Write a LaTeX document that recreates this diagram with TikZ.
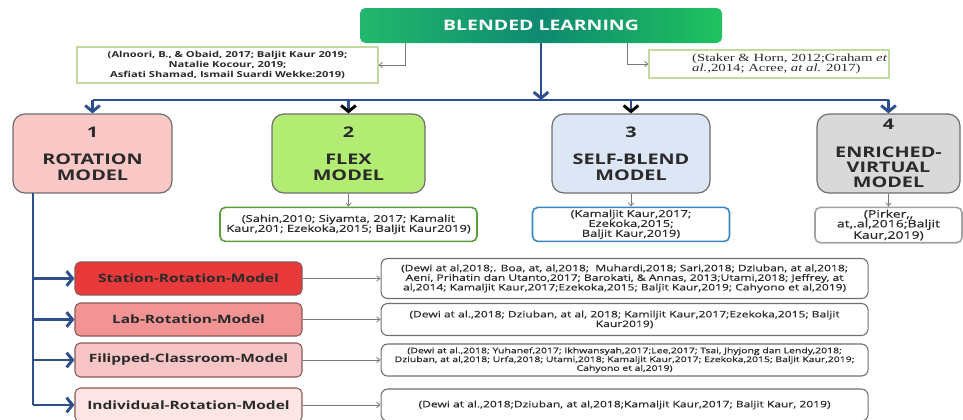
\documentclass[tikz,border=0pt]{standalone}
\usepackage{fontspec}
\setmainfont{Open Sans}[FakeStretch=1.35]
\newfontfamily\citefont{Open Sans}[FakeStretch=1.35, FakeBold=0.6]
\newfontfamily\refserif{Liberation Serif}[FakeStretch=1.35]
\usetikzlibrary{positioning,arrows.meta}

\definecolor{trunkblue}{HTML}{2E4F8E}
\definecolor{greenL}{HTML}{22B86C}
\definecolor{greenM}{HTML}{0E8A70}
\definecolor{greenR}{HTML}{1FC25E}
\definecolor{ink}{HTML}{2A2A2A}
\definecolor{edgegray}{HTML}{6E6E6E}
\definecolor{thingray}{HTML}{7A7A7A}
\definecolor{rotfill}{HTML}{F9C8C7}
\definecolor{flexfill}{HTML}{B2EC73}
\definecolor{selffill}{HTML}{DCE6F4}
\definecolor{virtfill}{HTML}{D9D9D9}
\definecolor{statfill}{HTML}{E8393B}
\definecolor{labfill}{HTML}{F29494}
\definecolor{flipfill}{HTML}{F7C5C5}
\definecolor{indfill}{HTML}{FDE5E5}
\definecolor{refgreen}{HTML}{C4D9A2}
\definecolor{flexedge}{HTML}{5C9E3E}
\definecolor{selfedge}{HTML}{3A86C4}
\definecolor{virtedge}{HTML}{A3A3A3}

\tikzset{
  headbox/.style={rounded corners=4pt, left color=greenL, right color=greenR, middle color=greenM,
    minimum width=271.5pt, minimum height=26.25pt, text=white, font=\bfseries\fontsize{10.8}{12}\selectfont},
  topref/.style={draw=refgreen, line width=0.8pt, align=center, text=ink, inner sep=0pt},
  model/.style={draw=edgegray, line width=0.9pt, rounded corners=9pt, minimum height=59.25pt,
    align=center, text=ink, font=\bfseries\fontsize{11}{11.5}\selectfont},
  modelref/.style={draw, line width=1.2pt, rounded corners=4pt, align=center, text=ink,
    minimum height=25.5pt, inner sep=0pt, font=\citefont\fontsize{7.2}{7.4}\selectfont},
  sub/.style={draw=edgegray!80!red, line width=0.8pt, rounded corners=4pt, minimum width=170.25pt,
    text=ink, font=\bfseries\fontsize{8.6}{10}\selectfont},
  subref/.style={draw=edgegray, line width=0.8pt, rounded corners=5pt, minimum width=365.25pt,
    minimum height=24pt, align=center, text=ink, inner sep=0pt, font=\citefont\fontsize{6.7}{7.2}\selectfont},
  trunk/.style={draw=trunkblue, line width=2.2pt},
  chevron/.style={-{Straight Barb[length=4.5pt, width=11pt, line width=2.2pt, color=#1]}},
  thin arrow/.style={draw=thingray, line width=0.6pt, -{Straight Barb[length=2.5pt, width=4pt, line width=0.6pt]}}
}

\begin{document}
\begin{tikzpicture}[x=0.75pt, y=-0.75pt]
  \useasboundingbox (0,0) rectangle (963,419);

  % head and its references
  \node[headbox] (bl) at (541,25.5) {BLENDED LEARNING};
  \node[topref, minimum width=225.75pt, minimum height=27pt, font=\bfseries\fontsize{6.2}{7.2}\selectfont] (refL) at (227.5,65)
    {(Alnoori, B., \& Obaid, 2017; Baljit Kaur 2019;\\Natalie Kocour, 2019;\\Asfiati Shamad, Ismail Suardi Wekke:2019)};
  \node[topref, minimum width=180pt, minimum height=21pt, align=left, font=\refserif\fontsize{8.2}{8}\selectfont] (refR) at (769,64)
    {\hspace*{31pt}(Staker \& Horn, 2012;Graham \textit{et}\\\hspace*{31pt}\textit{al.},2014; Acree, \textit{at al.} 2017)};
  \draw[thin arrow] ([xshift=-102pt]bl.south) |- (refL.east);
  \draw[thin arrow] ([xshift=64.5pt]bl.south) |- (refR.west);

  % four models
  \node[model, fill=rotfill, minimum width=119.25pt] (rot) at (92.5,153.5) {1\\[9pt]ROTATION\\MODEL};
  \node[model, fill=flexfill, minimum width=114.75pt] (flex) at (348.5,153.5) {2\\[9pt]FLEX\\MODEL};
  \node[model, fill=selffill, minimum width=118.5pt] (self) at (631,153.5) {3\\[9pt]SELF-BLEND\\MODEL};
  \node[model, fill=virtfill, minimum width=107.25pt] (virt) at (888.5,153.5) {4\\[9pt]ENRICHED-\\VIRTUAL\\MODEL};

  \coordinate (bus) at (541,100);
  \draw[trunk, chevron=trunkblue] (bl) -- (bus);
  \draw[trunk] (rot.north |- bus) -- (virt.north |- bus);
  \foreach \m/\c in {rot/trunkblue, flex/black, self/black, virt/trunkblue}
    \draw[trunk, chevron=\c] (\m.north |- bus) -- (\m.north);

  \node[modelref, draw=flexedge, minimum width=192.75pt, below=9.75pt of flex] (flexref)
    {(Sahin,2010; Siyamta, 2017; Kamalit\\Kaur,201; Ezekoka,2015; Baljit Kaur2019)};
  \node[modelref, draw=selfedge, minimum width=147.75pt, below=9.75pt of self] (selfref)
    {(Kamaljit Kaur,2017;\\Ezekoka,2015;\\Baljit Kaur,2019)};
  \node[modelref, draw=virtedge, minimum width=110.25pt, minimum height=26.5pt, inner ysep=1.5pt,
    below=9.75pt of virt, font=\citefont\fontsize{7.8}{7.3}\selectfont] (virtref)
    {(Pirker,,\\at,.al,2016;Baljit\\Kaur,2019)};
  \foreach \m in {flex, self, virt}
    \draw[thin arrow] (\m.south) -- (\m ref.north);

  % rotation sub-models
  \node[sub, fill=statfill, minimum height=24.75pt] (stat) at (188.5,278.5) {Station-Rotation-Model};
  \node[sub, fill=labfill, minimum height=24.75pt] (lab) at (188.5,319.5) {Lab-Rotation-Model};
  \node[sub, fill=flipfill, minimum height=25.5pt] (flip) at (188.5,360) {Filipped-Classroom-Model};
  \node[sub, fill=indfill, minimum height=25.5pt] (ind) at (188.5,405) {Individual-Rotation-Model};

  \coordinate (spine) at (33,193);
  \draw[trunk] (spine) -- (spine |- ind.west);
  \foreach \s in {stat, lab, flip, ind}
    \draw[trunk, chevron=trunkblue] (spine |- \s.west) -- (\s.west);

  \node[subref, minimum height=30pt, right=58.5pt of stat] (statref)
    {(Dewi at al,2018;. Boa, at, al,2018;\ \ Muhardi,2018; Sari,2018; Dziuban, at al,2018;\\
     Aeni, Prihatin dan Utanto,2017; Barokati, \& Annas, 2013;Utami,2018; Jeffrey, at\\
     al,2014; Kamaljit Kaur,2017;Ezekoka,2015; Baljit Kaur,2019; Cahyono et al,2019)};
  \node[subref, right=58.5pt of lab] (labref)
    {(Dewi at al.,2018; Dziuban, at al, 2018; Kamiljit Kaur,2017;Ezekoka,2015; Baljit\\Kaur2019)};
  \node[subref, right=58.5pt of flip, font=\citefont\fontsize{5.8}{6.6}\selectfont] (flipref)
    {(Dewi at al.,2018; Yuhanef,2017; Ikhwansyah,2017;Lee,2017; Tsai, Jhyjong dan Lendy,2018;\\
     Dziuban, at al,2018; Urfa,2018; Utami,2018; Kamaljit Kaur,2017; Ezekoka,2015; Baljit Kaur,2019;\\
     Cahyono et al,2019)};
  \node[subref, right=58.5pt of ind] (indref)
    {(Dewi at al.,2018;Dziuban, at al,2018;Kamaljit Kaur,2017; Baljit Kaur, 2019)};
  \foreach \s in {stat, lab, flip, ind}
    \draw[thin arrow] (\s.east) -- (\s ref.west);
\end{tikzpicture}
\end{document}
